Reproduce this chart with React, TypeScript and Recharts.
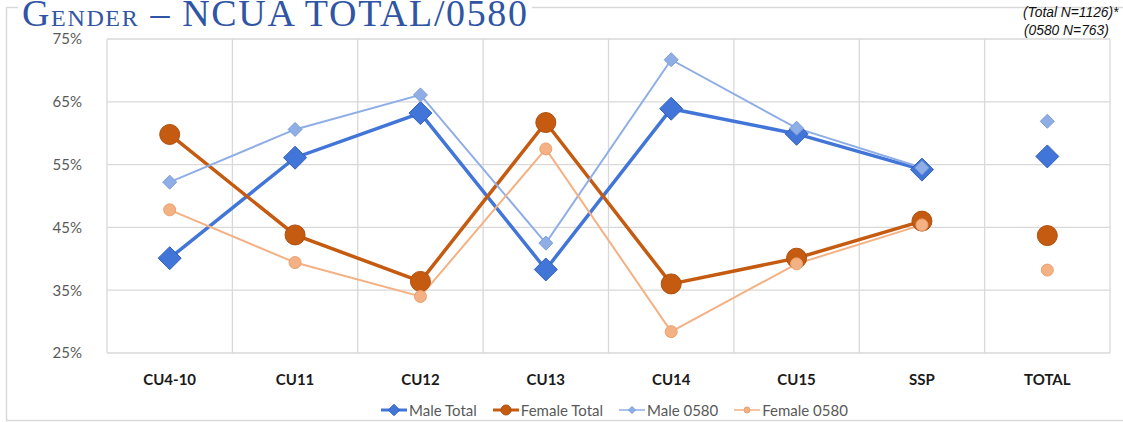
import { CartesianGrid, ComposedChart, Legend, Line, XAxis, YAxis } from 'recharts';

const categories = ['CU4-10', 'CU11', 'CU12', 'CU13', 'CU14', 'CU15', 'SSP', 'TOTAL'];
const maleTotal = [40.1, 56.1, 63.2, 38.3, 63.9, 59.9, 54.2, 56.3];
const femaleTotal = [59.8, 43.8, 36.4, 61.7, 36.0, 40.1, 46.0, 43.7];
const male0580 = [52.2, 60.6, 66.1, 42.5, 71.7, 60.8, 54.5, 61.9];
const female0580 = [47.8, 39.4, 34.0, 57.5, 28.4, 39.2, 45.4, 38.2];
const yTicks = [25, 35, 45, 55, 65, 75];

interface SeriesDef {
  key: string;
  name: string;
  values: number[];
  color: string;
  edge: string;
  width: number;
  shape: 'diamond' | 'circle';
  size: number;
}

const series: SeriesDef[] = [
  { key: 'maleTotal', name: 'Male Total', values: maleTotal, color: '#4275D8', edge: '#3461BE', width: 3.5, shape: 'diamond', size: 11.5 },
  { key: 'femaleTotal', name: 'Female Total', values: femaleTotal, color: '#C55A11', edge: '#AE4F0E', width: 3.5, shape: 'circle', size: 10 },
  { key: 'male0580', name: 'Male 0580', values: male0580, color: '#8FAEE6', edge: '#7C9CDA', width: 2, shape: 'diamond', size: 7 },
  { key: 'female0580', name: 'Female 0580', values: female0580, color: '#F4B183', edge: '#E9A070', width: 2, shape: 'circle', size: 6 },
];

// TOTAL is drawn as loose markers, not joined to the line
const split = categories.indexOf('TOTAL');

const data = categories.map((cat, i) => {
  const row: Record<string, string | number | null> = { cat };
  series.forEach((s) => {
    row[s.key] = i < split ? s.values[i] : null;
    row[s.key + 'Dot'] = i >= split ? s.values[i] : null;
  });
  return row;
});

function Marker({ s, cx, cy, r }: { s: SeriesDef; cx: number; cy: number; r: number }) {
  if (s.shape === 'diamond') {
    const pts = `${cx},${cy - r} ${cx + r},${cy} ${cx},${cy + r} ${cx - r},${cy}`;
    return <polygon points={pts} fill={s.color} stroke={s.edge} strokeWidth={1} />;
  }
  return <circle cx={cx} cy={cy} r={r} fill={s.color} stroke={s.edge} strokeWidth={1} />;
}

function dotFor(s: SeriesDef) {
  return (p: any) => {
    const { cx, cy, index } = p;
    if (cx == null || cy == null || p.value == null) return <g key={index} />;
    return (
      <g key={index}>
        <Marker s={s} cx={cx} cy={cy} r={s.size} />
      </g>
    );
  };
}

const verticalGrid = ({ offset }: any) => {
  const n = categories.length;
  return Array.from({ length: n + 1 }, (_, i) => offset.left + (offset.width * i) / n);
};

function LegendRow() {
  return (
    <div
      style={{
        display: 'flex',
        justifyContent: 'center',
        alignItems: 'center',
        gap: 16,
        fontFamily: 'Lato, sans-serif',
        fontSize: 15,
        color: '#595959',
        paddingLeft: 106,
      }}
    >
      {series.map((s) => (
        <div key={s.key} style={{ display: 'flex', alignItems: 'center', gap: 2 }}>
          <svg width={26} height={14}>
            <line x1={0} y1={7} x2={26} y2={7} stroke={s.color} strokeWidth={s.width - 0.5} />
            <Marker s={s} cx={13} cy={7} r={s.size * 0.5} />
          </svg>
          <span>{s.name}</span>
        </div>
      ))}
    </div>
  );
}

export default function App() {
  return (
    <div style={{ position: 'fixed', left: 0, top: 0, width: 1123, height: 422, background: '#fff' }}>
      <svg width={1123} height={422} style={{ position: 'absolute', left: 0, top: 0 }}>
        <rect x={6.5} y={7.5} width={1130} height={413} fill="#fff" stroke="#d9d9d9" strokeWidth={1.5} />
        <rect x={18} y={0} width={514} height={18} fill="#fff" />
        <text
          x={22}
          y={26}
          fill="#2F55A4"
          fontFamily="'Liberation Serif', 'DejaVu Serif', serif"
          fontSize={38}
          textLength={505}
          lengthAdjust="spacing"
        >
          G<tspan fontSize={24}>ENDER</tspan> – NCUA TOTAL/0580
        </text>
        <text x={1023} y={17} fontFamily="Arial, 'Liberation Sans', sans-serif" fontSize={13.8} fontStyle="italic" fill="#111">
          (Total N=1126)*
        </text>
        <text x={1024} y={35} fontFamily="Arial, 'Liberation Sans', sans-serif" fontSize={13.8} fontStyle="italic" fill="#111">
          (0580 N=763)
        </text>
      </svg>
      <div style={{ position: 'absolute', left: 0, top: 0 }}>
        <ComposedChart width={1123} height={422} data={data} margin={{ top: 39, right: 13, left: 0, bottom: 39 }}>
          <CartesianGrid stroke="#d9d9d9" strokeWidth={1.3} verticalCoordinatesGenerator={verticalGrid} />
          <XAxis
            dataKey="cat"
            scale="band"
            height={30}
            axisLine={false}
            tickLine={false}
            tickSize={0}
            tickMargin={21}
            interval={0}
            tick={{ fontFamily: 'Lato, sans-serif', fontSize: 15, fontWeight: 700, fill: '#1a1a1a' }}
          />
          <YAxis
            domain={[25, 75]}
            ticks={yTicks}
            width={107}
            axisLine={false}
            tickLine={false}
            tickSize={0}
            tickMargin={25}
            tickFormatter={(v: number) => `${v}%`}
            tick={{ fontFamily: 'Lato, sans-serif', fontSize: 15, fill: '#595959' }}
          />
          {series.map((s) => (
            <Line
              key={s.key}
              dataKey={s.key}
              name={s.name}
              stroke={s.color}
              strokeWidth={s.width}
              dot={dotFor(s)}
              activeDot={false}
              isAnimationActive={false}
            />
          ))}
          {series.map((s) => (
            <Line
              key={s.key + 'Dot'}
              dataKey={s.key + 'Dot'}
              name={s.name}
              stroke="none"
              legendType="none"
              dot={dotFor(s)}
              activeDot={false}
              isAnimationActive={false}
            />
          ))}
          <Legend
            layout="horizontal"
            verticalAlign="middle"
            align="center"
            wrapperStyle={{ top: 401, left: 0, width: 1123, height: 20 }}
            content={() => <LegendRow />}
          />
        </ComposedChart>
      </div>
    </div>
  );
}
